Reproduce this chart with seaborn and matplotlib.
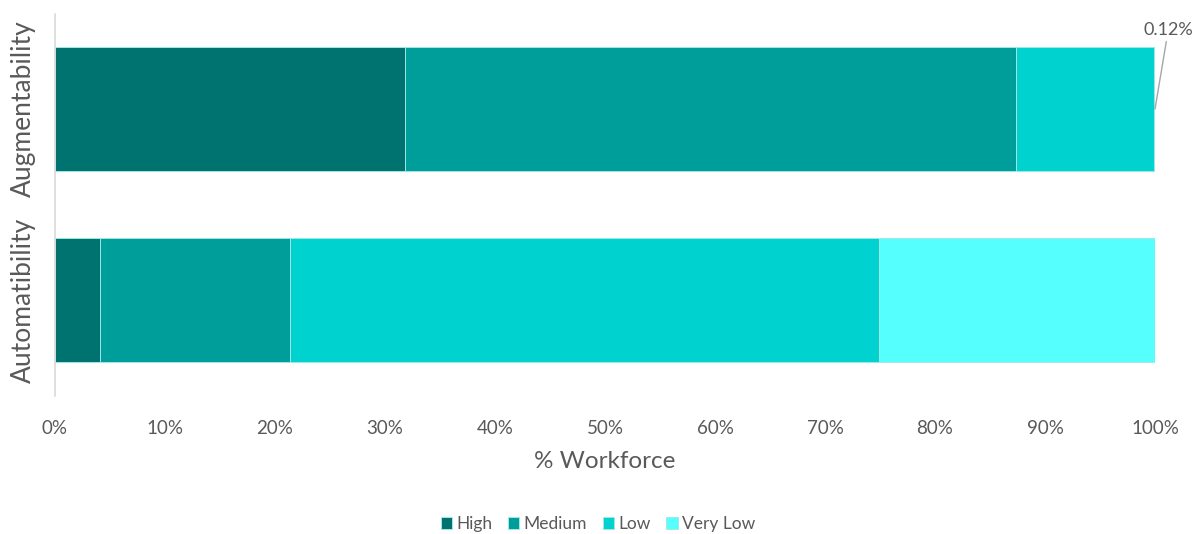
import matplotlib
matplotlib.use("Agg")
import matplotlib.pyplot as plt
import seaborn as sns
import pandas as pd
import numpy as np

# Share of workforce by exposure level
categories = ["Augmentability", "Automatibility"]
levels = ["High", "Medium", "Low", "Very Low"]
high = [31.8, 4.1]
medium = [55.6, 17.3]
low = [12.48, 53.5]
very_low = [0.12, 25.1]
colors = ["#007370", "#009E9A", "#00D3CF", "#55FFFE"]
xticks = [0, 10, 20, 30, 40, 50, 60, 70, 80, 90, 100]

sns.set_theme(style="white")
plt.rcParams["font.family"] = ["Lato", "DejaVu Sans"]
text_color = "#595959"

fig = plt.figure(figsize=(11.94, 5.34), dpi=100)
W, H = 1194, 534
ax = fig.add_axes([55 / W, (534 - 395.5) / H, 1100 / W, 382 / H])

values = np.array([high, medium, low, very_low]) / 100.0
cums = np.cumsum(values, axis=0)

# Stacked bars: draw cumulative totals from the widest down
for i in range(len(levels) - 1, -1, -1):
    df = pd.DataFrame({"category": categories, "value": cums[i]})
    sns.barplot(data=df, x="value", y="category", orient="h", color=colors[i],
                saturation=1, width=0.65, edgecolor="#9fe9e6", linewidth=0.7,
                ax=ax, label=levels[i])

ax.set_xlim(0, 1.0)
ax.set_ylim(1.5, -0.5)
ax.set_xticks([t / 100 for t in xticks])
ax.set_xticklabels([f"{t}%" for t in xticks], fontsize=13.5, color=text_color)
ax.tick_params(axis="x", length=0, pad=18)
ax.tick_params(axis="y", length=0, pad=14)
for lab in ax.get_yticklabels():
    lab.set_rotation(90)
    lab.set_va("center")
    lab.set_fontsize(19)
    lab.set_color(text_color)
ax.set_ylabel("")
ax.set_xlabel("% Workforce", fontsize=17.5, color=text_color, labelpad=10)

for s in ["top", "right", "bottom"]:
    ax.spines[s].set_visible(False)
ax.spines["left"].set_color("#d9d9d9")
ax.spines["left"].set_linewidth(1.2)

# Callout for the small Very Low share
ax.annotate(f"{very_low[0]:.2f}%", xy=(cums[3][0], 0), xycoords="data",
            xytext=(1.012, -0.37), textcoords="data", fontsize=13, color=text_color,
            ha="center", va="bottom",
            arrowprops=dict(arrowstyle="-", color="#a6a6a6", lw=1,
                            shrinkA=0, shrinkB=0))

# Legend in High -> Very Low order
handles, labels = ax.get_legend_handles_labels()
order = [labels.index(l) for l in levels]
leg = fig.legend([handles[i] for i in order], levels, loc="center",
                 bbox_to_anchor=(598 / W, 1 - 524 / H), ncol=4, frameon=False,
                 fontsize=12.5, handlelength=0.65, handleheight=0.65, handletextpad=0.25,
                 columnspacing=0.9)
for t in leg.get_texts():
    t.set_color(text_color)
if ax.get_legend():
    ax.get_legend().remove()

fig.savefig("out.png", dpi=100)
